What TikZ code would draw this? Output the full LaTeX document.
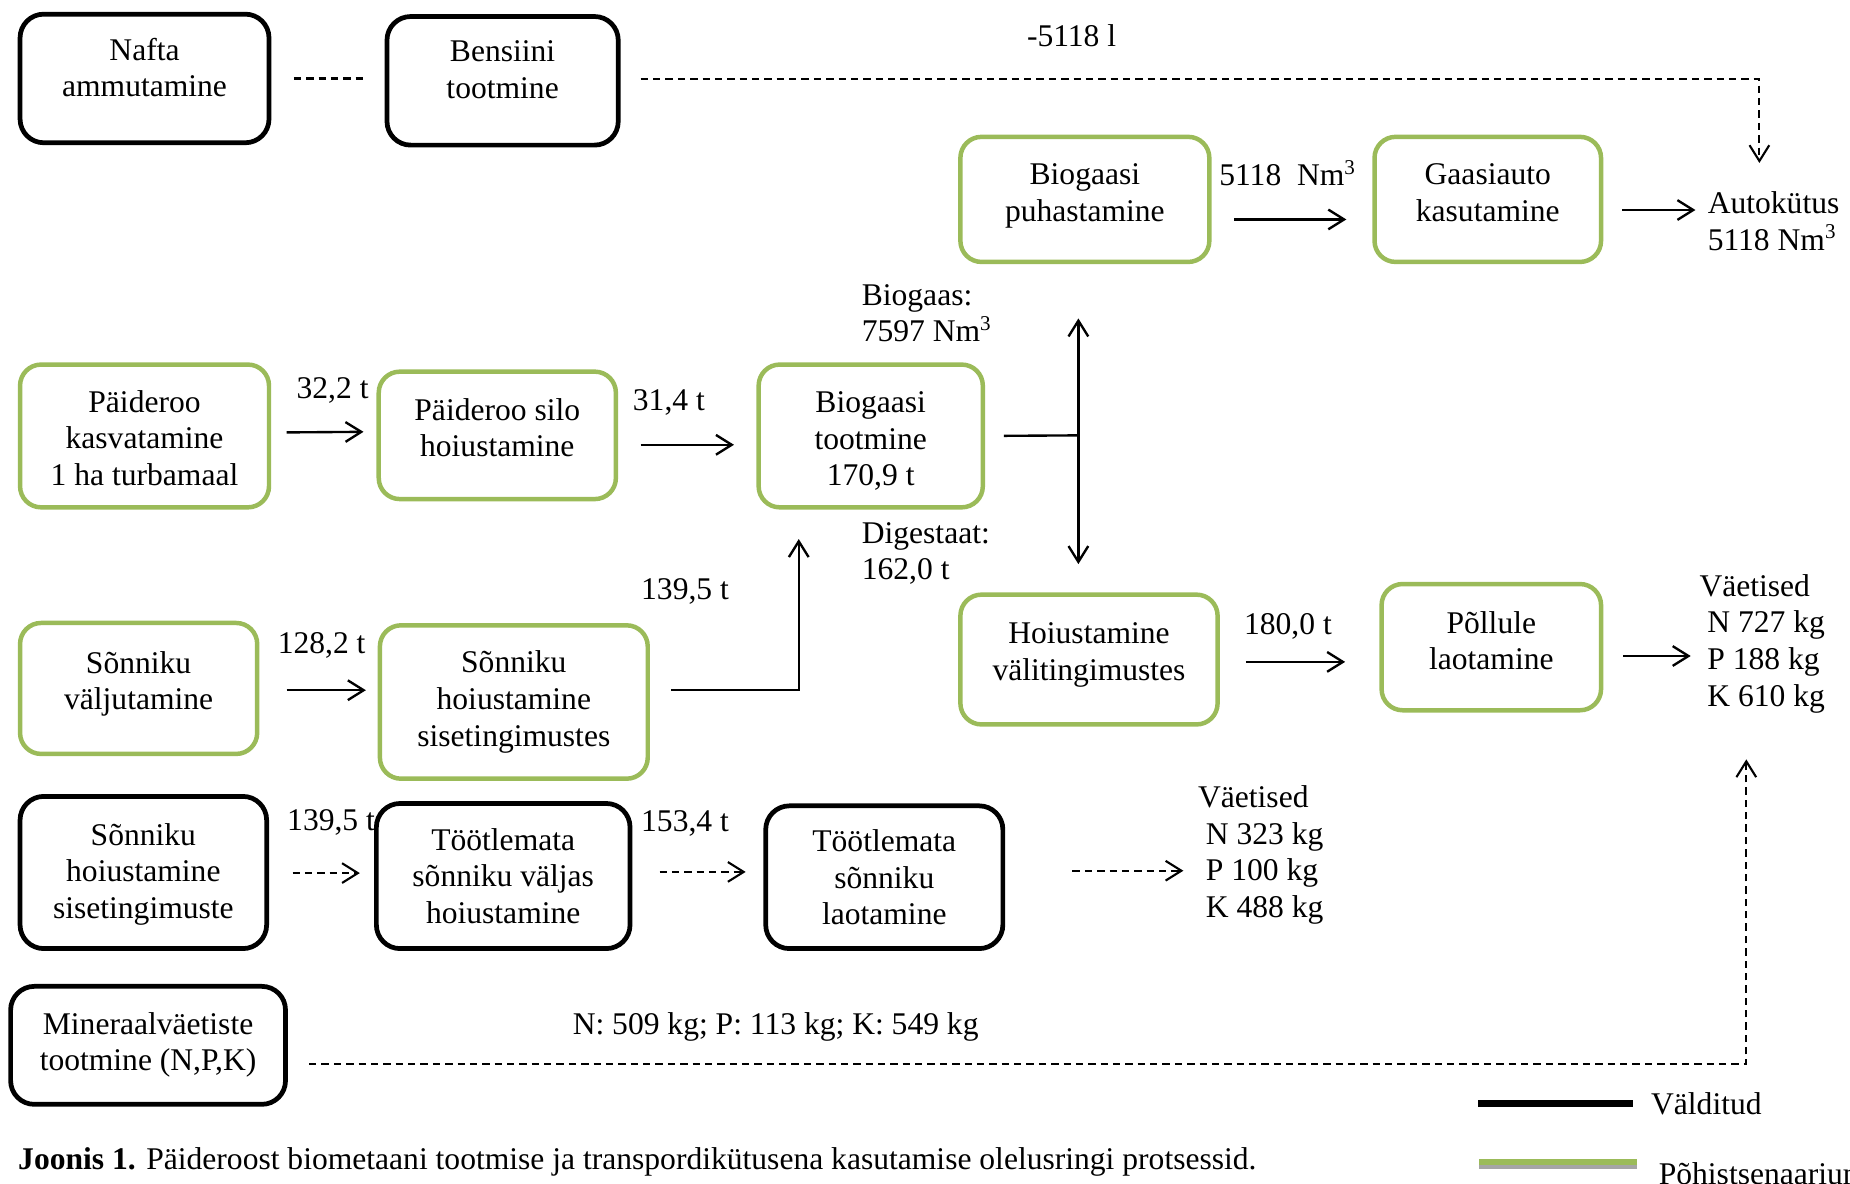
\documentclass[tikz,border=0pt]{standalone}
\usepackage{fontspec}
\setmainfont{Liberation Serif}
\usetikzlibrary{positioning}
\usetikzlibrary{arrows.meta}

\definecolor{pgreen}{RGB}{155,187,89}
\definecolor{pgray}{RGB}{165,165,165}
\newdimen\upx
\upx=0.4484pt
\newcommand\lowpad[1]{\rule[-#1]{0pt}{0pt}}
\newcommand\toppad[1]{\rule{0pt}{#1}}

\tikzset{
  every node/.style={font=\fontsize{12pt}{13.9pt}\selectfont},
  boxsize/.style 2 args={minimum width=#1*\upx, minimum height=#2*\upx},
  gbox/.style={draw=pgreen, line width=1.7pt, rounded corners=8pt, align=center, inner sep=1pt},
  bbox/.style={draw=black, line width=1.8pt, rounded corners=9pt, align=center, inner sep=1pt},
  lbl/.style={anchor=west, inner sep=0pt, align=left},
  arr/.style={line width=0.9pt, -{Straight Barb[length=6pt,width=7.5pt]}},
  dline/.style={line width=0.8pt, dash pattern=on 2.8pt off 1.9pt},
  darr/.style={dline, -{Straight Barb[length=6pt,width=7.5pt]}},
}

\begin{document}
\begin{tikzpicture}[x={(0.4484pt,0)}, y={(0,-0.4484pt)}]
\useasboundingbox (0,0) rectangle (1568,1003);

% avoided processes
\node[bbox, boxsize={211}{109}] (nafta) at (122.5,66.5) {Nafta\\ammutamine\lowpad{8.5pt}};
\node[bbox, boxsize={196}{109}] (bens) at (426,68.5) {Bensiini\\tootmine\lowpad{8.5pt}};
\node[bbox, boxsize={209}{129}] (sis2) at (121.5,739.5) {\toppad{9.5pt}Sõnniku\\hoiustamine\\sisetingimuste};
\node[bbox, boxsize={215}{123}] (tvh) at (426.5,742.5) {Töötlemata\\sõnniku väljas\\hoiustamine};
\node[bbox, boxsize={201}{121}] (tlao) at (749.5,743.5) {Töötlemata\\sõnniku\\laotamine};
\node[bbox, boxsize={233}{100}] (mine) at (125.5,886) {Mineraalväetiste\\tootmine (N,P,K)\lowpad{3pt}};

% main scenario
\node[gbox, boxsize={211}{106}] (puh) at (919.5,169) {Biogaasi\\puhastamine\lowpad{5.2pt}};
\node[gbox, boxsize={192}{106}] (gaas) at (1261,169) {Gaasiauto\\kasutamine\lowpad{5pt}};
\node[gbox, boxsize={211}{121}] (kasv) at (122.5,369.5) {\toppad{10pt}Päideroo\\kasvatamine\\1 ha turbamaal};
\node[gbox, boxsize={201}{108}] (silo) at (421.5,369) {Päideroo silo\\hoiustamine\lowpad{6pt}};
\node[gbox, boxsize={190}{121}] (tootm) at (738,369.5) {\toppad{12pt}Biogaasi\\tootmine\\170,9 t};
\node[gbox, boxsize={201}{111}] (valj) at (117.5,583.5) {Sõnniku\\väljutamine\lowpad{6pt}};
\node[gbox, boxsize={227}{130}] (sis) at (435.5,595) {Sõnniku\\hoiustamine\\sisetingimustes};
\node[gbox, boxsize={218}{110}] (hoiu) at (923,559) {Hoiustamine\\välitingimustes\lowpad{6pt}};
\node[gbox, boxsize={186}{107}] (pold) at (1264,548.5) {Põllule\\laotamine\lowpad{5pt}};

% flow texts
\node[lbl] (m5118) at (870,30) {-5118 l};
\node[lbl] (nm5118) at (1033,147) {5118~~Nm\textsuperscript{3}};
\node[lbl] (autok) at (1447,187.5) {Autokütus\\5118 Nm\textsuperscript{3}};
\node[lbl] (biog) at (730,265.5) {Biogaas:\\7597 Nm\textsuperscript{3}};
\node[lbl] (dig) at (730,469) {Digestaat:\\162,0 t};
\node[lbl] (t322) at (251,331) {32,2 t};
\node[lbl] (t314) at (536,341) {31,4 t};
\node[lbl] (t1395a) at (543,501) {139,5 t};
\node[lbl] (t1282) at (235,547) {128,2 t};
\node[lbl] (t1800) at (1054,531) {180,0 t};
\node[lbl] (vaet1) at (1440,545.5) {Väetised\\\ N 727 kg\\\ P 188 kg\\\ K 610 kg};
\node[lbl] (t1395b) at (243,697) {139,5 t};
\node[lbl] (t1534) at (543,698) {153,4 t};
\node[lbl] (vaet2) at (1015,724.5) {Väetised\\\ N 323 kg\\\ P 100 kg\\\ K 488 kg};
\node[lbl] (npk) at (485,870) {N: 509 kg; P: 113 kg; K: 549 kg};

% connectors
\draw[dline, shorten <=19*\upx, shorten >=16*\upx] (nafta.east) -- (nafta.east -| bens.west);
\draw[darr] ([shift={(17,-1.5)}]bens.east) -| ([shift={(-12,-24)}]autok.north);
\draw[arr] ([shift={(19,17)}]puh.east) -- ([shift={(-22,17)}]gaas.west);
\draw[arr, shorten >=10*\upx] ([shift={(16,9)}]gaas.east) coordinate (p) -- (p -| autok.west);
\draw[arr] ([shift={(13,-3)}]kasv.east) -- ([shift={(-11,-3)}]silo.west);
\draw[arr] ([shift={(19,8)}]silo.east) -- ([shift={(-19,7.5)}]tootm.west);
\coordinate (split) at (914,369);
\draw[line width=0.9pt, shorten <=16*\upx] (tootm.east) -- (split);
\draw[arr, shorten >=46*\upx] (split) -- (split |- puh.south);
\draw[arr, shorten >=24*\upx] (split) -- (split |- hoiu.north);
\draw[arr] ([shift={(23,1.5)}]valj.east) -- ([shift={(-10,-10)}]sis.west);
\draw[arr] ([shift={(18,-10)}]sis.east) -| ([shift={(-61,25)}]tootm.south);
\draw[arr] ([shift={(22,2)}]hoiu.east) -- ([shift={(-29,12.5)}]pold.west);
\draw[arr, shorten >=7*\upx] ([shift={(17,7.5)}]pold.east) coordinate (p) -- (p -| vaet1.west);
\draw[darr] ([shift={(20,0.5)}]sis2.east) -- ([shift={(-12,-2.5)}]tvh.west);
\draw[darr] ([shift={(23,-3.5)}]tvh.east) -- ([shift={(-15,-4.5)}]tlao.west);
\draw[darr, shorten >=12*\upx] ([shift={(57,-5.5)}]tlao.east) coordinate (p) -- (p -| vaet2.west);
\draw[darr] ([shift={(18,16)}]mine.east) -| ([shift={(-13.5,39)}]vaet1.south);

% legend
\node[lbl] (vald) at (1399,935.5) {Välditud};
\draw[line width=2.7pt] ([shift={(-15,0)}]vald.west) -- ++(-131,0);
\node[lbl] (pohi) at (1405.5,995) {Põhistsenaarium};
\draw[pgray, line width=1.5pt] ([shift={(-18,-6)}]pohi.west) -- ++(-134,0);
\draw[pgreen, line width=2.2pt] ([shift={(-18,-10)}]pohi.west) -- ++(-134,0);

% caption
\node[lbl] (capt) at (15,985) {\textbf{Joonis 1.} Päideroost biometaani tootmise ja transpordikütusena kasutamise olelusringi protsessid.};
\end{tikzpicture}
\end{document}
